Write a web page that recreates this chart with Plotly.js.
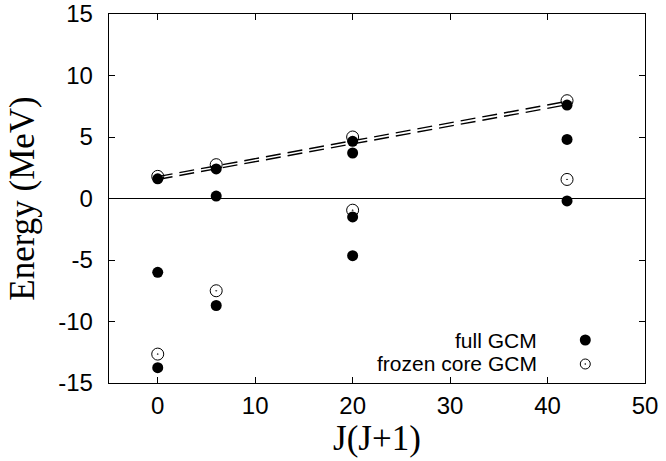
<!DOCTYPE html>
<html>
<head>
<meta charset="utf-8">
<script src="https://cdn.plot.ly/plotly-3.0.1.min.js"></script>
<style>html,body{margin:0;padding:0;background:#fff;}</style>
</head>
<body>
<div id="chart" style="width:666px;height:461px;"></div>
<script>
// J(J+1) values and energies (MeV)
const fullX = [0, 0, 0, 6, 6, 6, 20, 20, 20, 20, 42, 42, 42];
const fullY = [1.6, -6.0, -13.75, 2.4, 0.2, -8.7, 4.65, 3.7, -1.5, -4.65, 7.6, 4.8, -0.2];
const frozenX = [0, 0, 6, 6, 20, 20, 42, 42];
const frozenY = [1.8, -12.65, 2.75, -7.5, 5.0, -0.95, 7.95, 1.55];
// dashed rotational-band lines
const bandX = [0, 42];
const bandUpper = [1.78, 7.9];
const bandLower = [1.55, 7.62];
const xTicks = [0, 10, 20, 30, 40, 50];
const yTicks = [-15, -10, -5, 0, 5, 10, 15];
const legendNames = ["full GCM", "frozen core GCM"];

const sans = "Liberation Sans, Arial, Helvetica, sans-serif";
const serif = "Liberation Serif, Times New Roman, serif";

const traces = [
  {x: bandX, y: bandUpper, mode: "lines", line: {color: "#000", width: 1.4, dash: "15px,7px"}, hoverinfo: "skip"},
  {x: bandX, y: bandLower, mode: "lines", line: {color: "#000", width: 1.4, dash: "15px,7px"}, hoverinfo: "skip"},
  {x: frozenX, y: frozenY, mode: "markers", name: legendNames[1],
   marker: {symbol: "circle-open-dot", size: 12, color: "#000", line: {color: "#000", width: 1}}},
  {x: fullX, y: fullY, mode: "markers", name: legendNames[0],
   marker: {symbol: "circle", size: 11, color: "#000"}}
];

function axisCommon() {
  return {
    showgrid: false, showline: true, linecolor: "#000", linewidth: 1.3,
    mirror: "ticks", ticks: "inside", ticklen: 6, tickwidth: 1, tickcolor: "#000",
    ticklabeloverflow: "allow",
    tickfont: {family: sans, size: 24, color: "#000"}
  };
}

const xaxis = Object.assign(axisCommon(), {
  range: [-5, 50], tickvals: xTicks, ticktext: xTicks.map(String), zeroline: false,
  ticklabelstandoff: 1,
  title: {text: "J(J+1)", font: {family: serif, size: 35, color: "#000"}, standoff: 6}
});
const yaxis = Object.assign(axisCommon(), {
  range: [-15, 15], tickvals: yTicks, ticktext: yTicks.map(String),
  zeroline: true, zerolinecolor: "#000", zerolinewidth: 1.5,
  ticklabelstandoff: 10,
  title: {text: "Energy (MeV)", font: {family: serif, size: 35, color: "#000"}, standoff: 13}
});

const legendRows = [0.1165, 0.0515];
const annotations = legendNames.map((t, i) => ({
  xref: "paper", yref: "paper", x: 0.8004, y: legendRows[i], xanchor: "right", yanchor: "middle",
  text: t, showarrow: false, borderpad: 0, font: {family: sans, size: 21, color: "#000"}
}));

const gx = 0.8886;
const shapes = [
  {type: "circle", xref: "paper", yref: "paper", xsizemode: "pixel", ysizemode: "pixel",
   xanchor: gx, yanchor: legendRows[0], x0: -5.5, x1: 5.5, y0: -5.5, y1: 5.5,
   fillcolor: "#000", line: {color: "#000", width: 0}},
  {type: "circle", xref: "paper", yref: "paper", xsizemode: "pixel", ysizemode: "pixel",
   xanchor: gx, yanchor: legendRows[1], x0: -5, x1: 5, y0: -5, y1: 5,
   fillcolor: "rgba(0,0,0,0)", line: {color: "#000", width: 1}},
  {type: "circle", xref: "paper", yref: "paper", xsizemode: "pixel", ysizemode: "pixel",
   xanchor: gx, yanchor: legendRows[1], x0: -0.8, x1: 0.8, y0: -0.8, y1: 0.8,
   fillcolor: "#000", line: {color: "#000", width: 0}}
];

const layout = {
  width: 666, height: 461,
  margin: {l: 109, r: 21, t: 14, b: 78},
  paper_bgcolor: "#fff", plot_bgcolor: "#fff",
  showlegend: false,
  xaxis: xaxis, yaxis: yaxis,
  annotations: annotations, shapes: shapes
};

Plotly.newPlot("chart", traces, layout, {displayModeBar: false, staticPlot: true});
</script>
</body>
</html>
